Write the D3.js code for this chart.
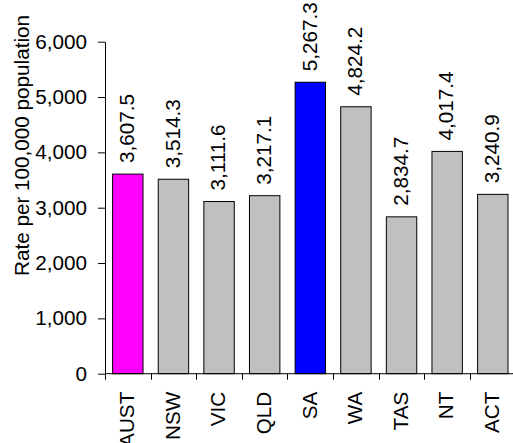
<!DOCTYPE html>
<html>
<head>
<meta charset="utf-8">
<script src="https://cdn.jsdelivr.net/npm/d3@7"></script>
<style>
  html, body { margin: 0; padding: 0; background: #fff; }
  svg { display: block; font-family: Arial, "Liberation Sans", sans-serif; }
</style>
</head>
<body>
<script>
// Rate per 100,000 population by jurisdiction
const categories = ["AUST", "NSW", "VIC", "QLD", "SA", "WA", "TAS", "NT", "ACT"];
const rates = [3607.5, 3514.3, 3111.6, 3217.1, 5267.3, 4824.2, 2834.7, 4017.4, 3240.9];
const yTicks = [0, 1000, 2000, 3000, 4000, 5000, 6000];
const yTitle = "Rate per 100,000 population";
const highlight = { AUST: "#FF00FF", SA: "#0000FF" };
const baseFill = "#C0C0C0";

const W = 513, H = 443;
const plotLeft = 105, plotRight = 515.6, plotTop = 41.7, plotBottom = 373.7;
const fontSize = 20.7;

const svg = d3.select("body").append("svg")
  .attr("width", W).attr("height", H);

const x = d3.scaleBand()
  .domain(categories)
  .range([plotLeft, plotRight])
  .paddingInner(1 / 3)
  .paddingOuter(1 / 6);

const y = d3.scaleLinear()
  .domain([0, 6000])
  .range([plotBottom, plotTop]);

const fmt = d3.format(",.1f");
const gap = x.step() - x.bandwidth();

// Bars
svg.append("g").selectAll("rect")
  .data(categories)
  .join("rect")
  .attr("x", d => x(d))
  .attr("y", (d, i) => y(rates[i]))
  .attr("width", x.bandwidth())
  .attr("height", (d, i) => y(0) - y(rates[i]))
  .attr("fill", d => highlight[d] || baseFill)
  .attr("stroke", "#000")
  .attr("stroke-width", 1);

// Value labels above bars, rotated
svg.append("g").selectAll("text")
  .data(categories)
  .join("text")
  .attr("transform", (d, i) =>
    `translate(${x(d) + x.bandwidth() / 2},${y(rates[i]) - 11}) rotate(-90)`)
  .attr("dy", "0.3em")
  .attr("text-anchor", "start")
  .attr("font-size", fontSize)
  .attr("fill", "#000")
  .text((d, i) => fmt(rates[i]));

// Y axis
const yAxis = d3.axisLeft(y)
  .tickValues(yTicks)
  .tickFormat(d3.format(","))
  .tickSize(7)
  .tickSizeOuter(0)
  .tickPadding(11);

const gy = svg.append("g")
  .attr("transform", `translate(${plotLeft},0)`)
  .call(yAxis);
gy.select(".domain").attr("stroke", "#000");
gy.selectAll(".tick line").attr("stroke", "#000");
gy.selectAll(".tick text")
  .attr("font-size", fontSize)
  .attr("font-family", "Arial, 'Liberation Sans', sans-serif")
  .attr("fill", "#000");

// X axis baseline
svg.append("line")
  .attr("x1", plotLeft).attr("x2", plotRight)
  .attr("y1", y(0)).attr("y2", y(0))
  .attr("stroke", "#000");

// Tick marks between categories
svg.append("g").selectAll("line")
  .data(categories)
  .join("line")
  .attr("x1", d => Math.round(x(d) - gap / 2) + 0.5)
  .attr("x2", d => Math.round(x(d) - gap / 2) + 0.5)
  .attr("y1", y(0))
  .attr("y2", y(0) + 6)
  .attr("stroke", "#000");

// Category labels, rotated
svg.append("g").selectAll("text")
  .data(categories)
  .join("text")
  .attr("transform", d =>
    `translate(${x(d) + x.bandwidth() / 2},${y(0) + 18}) rotate(-90)`)
  .attr("dy", "0.3em")
  .attr("text-anchor", "end")
  .attr("font-size", fontSize)
  .attr("fill", "#000")
  .text(d => d);

// Y axis title
svg.append("text")
  .attr("transform", `translate(29,145.5) rotate(-90)`)
  .attr("text-anchor", "middle")
  .attr("font-size", fontSize)
  .attr("fill", "#000")
  .text(yTitle);
</script>
</body>
</html>
